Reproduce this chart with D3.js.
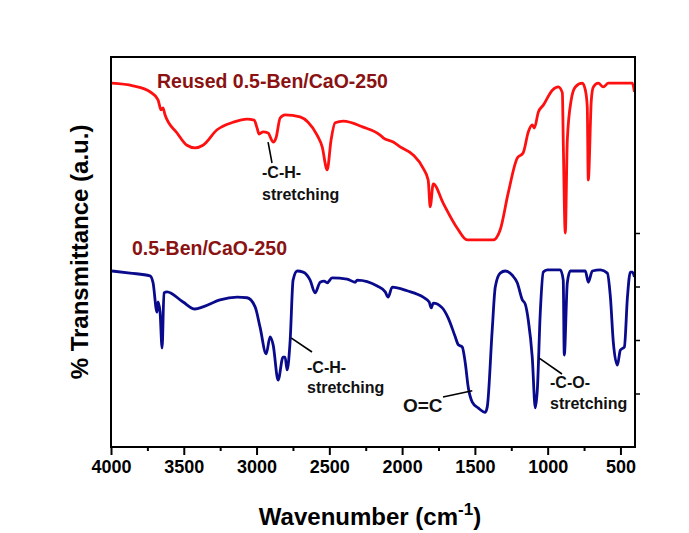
<!DOCTYPE html>
<html>
<head>
<meta charset="utf-8">
<script src="https://cdn.jsdelivr.net/npm/d3@7/dist/d3.min.js"></script>
<style>
  html, body { margin: 0; padding: 0; background: #ffffff; }
  svg { display: block; font-family: "Liberation Sans", Arial, sans-serif; }
</style>
</head>
<body>
<svg id="chart" width="689" height="533"></svg>
<script>
// FTIR spectra: [wavenumber (cm-1), transmittance (a.u.)]
const reusedSpectrum = [
  [3995,68.0],[3849,67.5],[3732,66.4],[3677,64.9],[3656,63.0],[3643,63.4],[3629,62.1],
  [3546,58.7],[3478,56.4],[3423,55.9],[3368,56.4],[3271,59.3],[3161,60.7],[3065,61.3],
  [3017,61.1],[2996,59.6],[2983,58.5],[2955,58.9],[2921,58.7],[2886,57.0],[2866,57.8],
  [2838,61.5],[2804,62.1],[2701,61.7],[2646,60.7],[2584,58.3],[2549,56.1],[2515,51.8],
  [2488,57.4],[2460,60.6],[2405,60.9],[2268,59.8],[2151,58.3],[2130,57.8],[2061,57.0],
  [2013,56.1],[1924,54.6],[1855,52.1],[1821,49.9],[1807,44.9],[1786,49.2],[1718,45.6],
  [1621,40.9],[1553,38.7],[1374,38.7],[1326,40.6],[1271,47.5],[1209,54.0],[1168,55.0],
  [1133,58.9],[1106,60.2],[1092,59.6],[1064,62.6],[1030,63.9],[968,66.7],[927,67.3],
  [899,66.2],[893,57.4],[879,40.0],[865,57.4],[838,64.9],[810,67.3],[762,68.0],
  [741,66.7],[728,63.6],[721,49.9],[700,64.9],[686,67.3],[652,68.0],[618,67.3],
  [583,68.0],[418,68.0],[404,66.4]
];

const freshSpectrum = [
  [3993,32.9],[3869,32.5],[3732,32.0],[3711,30.7],[3684,25.2],[3677,27.1],[3663,25.2],
  [3649,18.5],[3636,28.8],[3615,29.0],[3505,27.1],[3423,25.8],[3368,26.2],[3251,27.5],
  [3134,28.0],[3065,27.9],[3010,26.2],[2976,22.4],[2934,17.4],[2907,20.6],[2886,19.1],
  [2852,12.5],[2818,16.8],[2804,16.8],[2790,14.4],[2769,20.0],[2749,31.2],[2721,32.9],
  [2680,32.7],[2632,31.2],[2598,28.8],[2563,30.8],[2536,31.0],[2515,30.7],[2481,31.6],
  [2378,31.4],[2323,30.8],[2309,31.2],[2171,30.1],[2116,29.0],[2096,28.0],[2068,29.9],
  [1965,29.2],[1855,28.0],[1814,27.1],[1800,26.0],[1786,26.9],[1724,26.0],[1683,24.1],
  [1635,20.6],[1614,19.1],[1587,18.7],[1566,15.7],[1546,11.2],[1518,8.4],[1477,7.3],
  [1429,6.5],[1415,7.5],[1381,21.9],[1360,29.9],[1326,32.5],[1291,32.9],[1243,32.1],
  [1209,30.7],[1174,27.5],[1154,26.7],[1133,23.7],[1106,16.8],[1085,7.3],[1071,10.7],
  [1051,25.0],[1030,32.7],[1003,33.1],[913,33.1],[893,31.2],[886,17.2],[865,30.7],
  [844,32.9],[741,32.9],[721,30.8],[693,32.9],[638,33.1],[590,32.5],[569,28.0],
  [549,19.6],[521,15.3],[501,18.1],[473,18.7],[452,28.0],[432,32.7],[418,32.7],[404,31.8]
];

const seriesNames = ["Reused 0.5-Ben/CaO-250", "0.5-Ben/CaO-250"];
const seriesColors = ["#ff1010", "#0a0a8c"];
const xMajorTicks = [4000, 3500, 3000, 2500, 2000, 1500, 1000, 500];
const xMinorTicks = [3750, 3250, 2750, 2250, 1750, 1250, 750];
const yRightTicks = [10, 20, 30, 40];

// Band assignments: pointer tip on the spectrum, then label lines
const bandNotes = [
  { tip: [2921, 57.0], end: [272, 163], lines: ["-C-H-", "stretching"], at: [262, 178], gap: 22, size: 16 },
  { tip: [2763, 20.4], end: [312, 352], lines: ["-C-H-", "stretching"], at: [307, 373], gap: 20, size: 16 },
  { tip: [1518, 10.5], end: [443, 397], lines: ["O=C"], at: [403, 412], gap: 0, size: 19 },
  { tip: [1058, 16.6], end: [562, 374], lines: ["-C-O-", "stretching"], at: [550, 388], gap: 21, size: 16 }
];

const svg = d3.select("#chart");
const margin = { left: 111, top: 57, right: 54, bottom: 86 };
const W = 689, H = 533;
const innerW = W - margin.left - margin.right;
const innerH = H - margin.top - margin.bottom;

const x = d3.scaleLinear().domain([4000, 400]).range([margin.left, margin.left + innerW]);
const y = d3.scaleLinear().domain([0, 72.9]).range([margin.top + innerH, margin.top]);

const line = d3.line()
  .x(d => x(d[0]))
  .y(d => y(d[1]))
  .curve(d3.curveMonotoneX);

const plot = svg.append("g");
plot.append("path").datum(reusedSpectrum)
  .attr("d", line).attr("fill", "none")
  .attr("stroke", seriesColors[0]).attr("stroke-width", 2.8)
  .attr("stroke-linejoin", "round");
plot.append("path").datum(freshSpectrum)
  .attr("d", line).attr("fill", "none")
  .attr("stroke", seriesColors[1]).attr("stroke-width", 2.8)
  .attr("stroke-linejoin", "round");

// Frame
const x0 = margin.left, x1 = margin.left + innerW, y0 = margin.top, y1 = margin.top + innerH;
svg.append("rect")
  .attr("x", x0).attr("y", y0).attr("width", innerW).attr("height", innerH)
  .attr("fill", "none").attr("stroke", "#000").attr("stroke-width", 2);

// Bottom axis
const bottomAxis = d3.axisBottom(x).tickValues(xMajorTicks).tickSize(8).tickPadding(5).tickFormat(d3.format("d"));
const gx = svg.append("g").attr("transform", `translate(0,${y1})`).call(bottomAxis);
gx.select(".domain").remove();
gx.selectAll(".tick line").attr("stroke", "#000").attr("stroke-width", 2);
gx.selectAll(".tick text")
  .attr("font-size", 18).attr("font-weight", "bold").attr("fill", "#000")
  .attr("font-family", "'Liberation Sans', Arial, sans-serif");
const gxm = svg.append("g").attr("transform", `translate(0,${y1})`)
  .call(d3.axisBottom(x).tickValues(xMinorTicks).tickSize(4).tickFormat(""));
gxm.select(".domain").remove();
gxm.selectAll(".tick line").attr("stroke", "#000").attr("stroke-width", 2);

// Right axis ticks
const gy = svg.append("g").attr("transform", `translate(${x1},0)`)
  .call(d3.axisRight(y).tickValues(yRightTicks).tickSize(5).tickFormat(""));
gy.select(".domain").remove();
gy.selectAll(".tick line").attr("stroke", "#000").attr("stroke-width", 1.5);

// Axis titles
const xt = svg.append("text")
  .attr("x", (x0 + x1) / 2 - 3).attr("y", 525)
  .attr("text-anchor", "middle")
  .attr("font-size", 24).attr("font-weight", "bold").attr("fill", "#000");
xt.append("tspan").text("Wavenumber (cm");
xt.append("tspan").attr("font-size", 17).attr("dy", -10).text("-1");
xt.append("tspan").attr("dy", 10).text(")");

svg.append("text")
  .attr("transform", `translate(88,${(y0 + y1) / 2}) rotate(-90)`)
  .attr("text-anchor", "middle")
  .attr("font-size", 24).attr("font-weight", "bold").attr("fill", "#000")
  .text("% Transmittance (a.u.)");

// Series labels
const seriesLabelPos = [[157, 88], [132, 255]];
seriesNames.forEach((name, i) => {
  svg.append("text")
    .attr("x", seriesLabelPos[i][0]).attr("y", seriesLabelPos[i][1])
    .attr("font-size", 19.5).attr("font-weight", "bold").attr("fill", "#8a1212")
    .text(name);
});

// Band annotations
bandNotes.forEach(n => {
  svg.append("line")
    .attr("x1", x(n.tip[0])).attr("y1", y(n.tip[1]))
    .attr("x2", n.end[0]).attr("y2", n.end[1])
    .attr("stroke", "#000").attr("stroke-width", 1.6);
  n.lines.forEach((t, k) => {
    svg.append("text")
      .attr("x", n.at[0]).attr("y", n.at[1] + k * n.gap)
      .attr("font-size", n.size).attr("font-weight", "bold").attr("fill", "#111")
      .text(t);
  });
});
</script>
</body>
</html>
